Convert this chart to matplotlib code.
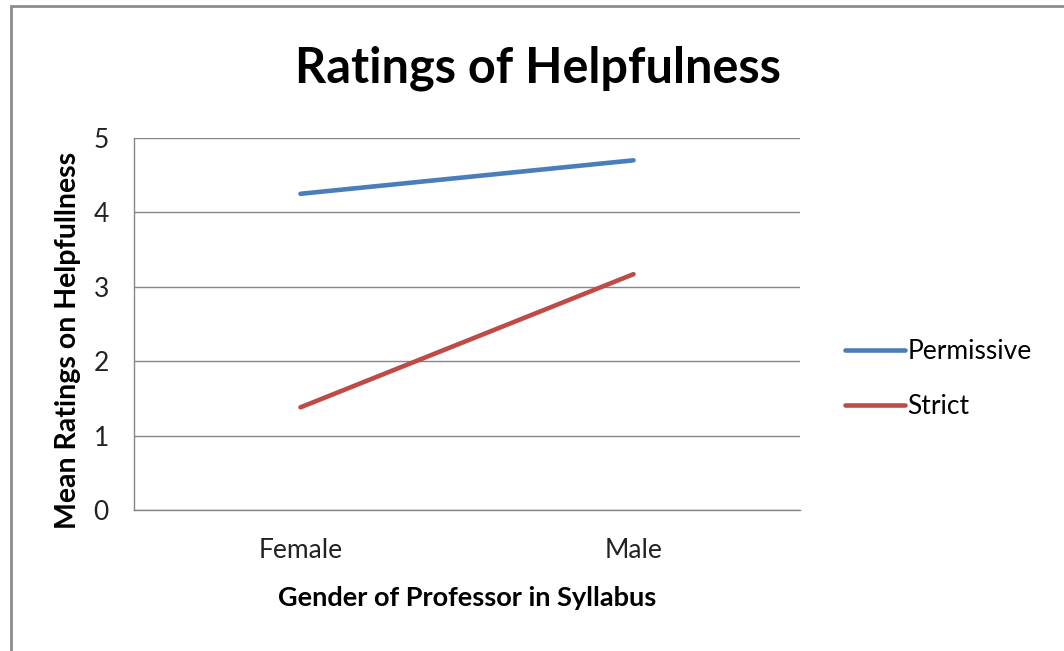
import matplotlib
matplotlib.use("Agg")
import matplotlib.pyplot as plt
from matplotlib.patches import Rectangle

# data
genders = ["Female", "Male"]
permissive = [4.25, 4.70]
strict = [1.38, 3.17]
y_ticks = [0, 1, 2, 3, 4, 5]

C_BLUE = "#4A7EBB"
C_RED = "#BE4B48"
C_GRID = "#868686"

plt.rcParams["font.family"] = ["Lato", "DejaVu Sans"]

fig = plt.figure(figsize=(10.64, 6.51), dpi=100)
ax = fig.add_axes([134 / 1064, 141 / 651, 666 / 1064, 372 / 651])

x = list(range(len(genders)))
ax.plot(x, permissive, color=C_BLUE, lw=3.3, solid_capstyle="round",
        label="Permissive")
ax.plot(x, strict, color=C_RED, lw=3.3, solid_capstyle="round",
        label="Strict")

ax.set_xlim(-0.5, 1.5)
ax.set_ylim(0, 5)
ax.set_yticks(y_ticks)
ax.set_xticks(x)
ax.set_xticklabels(genders)
ax.tick_params(length=0, labelsize=19, colors="#222222")
ax.tick_params(axis="y", pad=18)
ax.tick_params(axis="x", pad=20)
ax.yaxis.grid(True, color=C_GRID, lw=1)
ax.set_axisbelow(True)
for side in ("top", "right"):
    ax.spines[side].set_visible(False)
for side in ("left", "bottom"):
    ax.spines[side].set_color(C_GRID)
    ax.spines[side].set_linewidth(1)

ax.set_xlabel("Gender of Professor in Syllabus", fontsize=19.5,
              fontweight="bold")
ax.set_ylabel("Mean Ratings on Helpfullness", fontsize=20.5,
              fontweight="bold")
ax.xaxis.set_label_coords(0.5, -0.205)
ax.yaxis.set_label_coords(-0.08, 0.457)
fig.text(538 / 1064, 1 - 68 / 651, "Ratings of Helpfulness", fontsize=35,
         fontweight="bold", ha="center", va="center")

ax.legend(loc="center left", bbox_to_anchor=(845 / 1064, 1 - 379 / 651),
          bbox_transform=fig.transFigure, frameon=False, borderpad=0,
          borderaxespad=0, fontsize=19, handlelength=2.27,
          handletextpad=0.1, labelspacing=1.12)

# outer chart frame (cut off at right/bottom like the screenshot)
fig.patches.append(Rectangle((11 / 1064, -0.1), 1.2, 1.1 - 6 / 651,
                             transform=fig.transFigure, fill=False,
                             edgecolor="#8C8C8C", lw=2))

fig.savefig("out.png", dpi=100)
